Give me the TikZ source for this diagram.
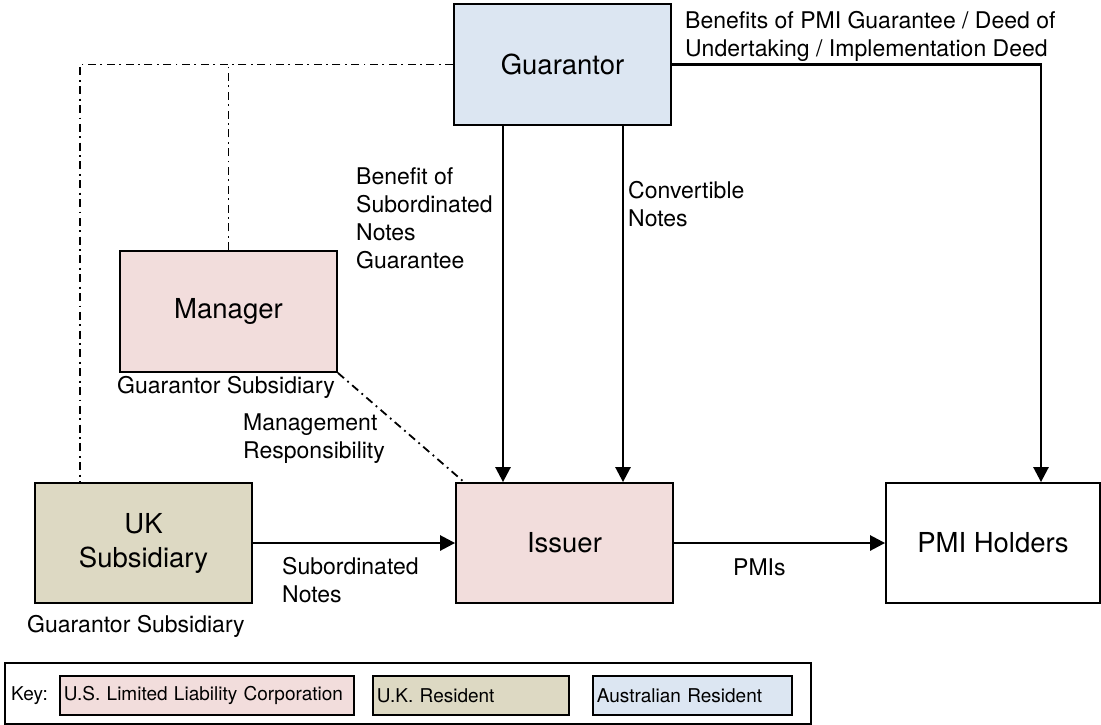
\documentclass[tikz,border=0pt]{standalone}
\usepackage{fontspec}
\setmainfont{TeX Gyre Heros}
\usetikzlibrary{arrows.meta}

\definecolor{usllc}{RGB}{242,221,220}
\definecolor{ukres}{RGB}{221,217,195}
\definecolor{aures}{RGB}{220,230,242}

\begin{document}
\begin{tikzpicture}[x=1pt, y=-1pt,
  entity/.style={draw, line width=1.8pt, minimum width=217pt, minimum height=120pt,
    align=center, font=\fontsize{27.5}{34}\selectfont},
  lbl/.style={anchor=north west, inner sep=0pt, align=left,
    font=\fontsize{23}{28}\selectfont},
  keybox/.style={draw, line width=1.8pt, anchor=north west, minimum height=39pt,
    inner xsep=4pt, align=left, font=\fontsize{19}{22}\selectfont},
  flow/.style={line width=2.6pt, -{Triangle[length=15pt,width=15pt]}},
  dashdot/.style={line width=1.8pt, dash pattern=on 8pt off 4.5pt on 1.8pt off 4.5pt}]

\useasboundingbox (0,0) rectangle (1101,724);

%% boxes
\node[entity, fill=aures, minimum height=121pt] (guarantor) at (562.5,64.5) {Guarantor};
\node[entity, fill=usllc, minimum height=121pt] (manager) at (228.5,311.5) {Manager};
\node[entity, fill=ukres] (uksub) at (143.5,543) {UK\\Subsidiary};
\node[entity, fill=usllc] (issuer) at (564.5,543) {Issuer};
\node[entity, minimum width=214pt] (holders) at (993,543) {PMI Holders};

%% helper points
\coordinate (lnA) at (503,0);
\coordinate (lnB) at (623,0);
\coordinate (bend) at (1041,0);
\coordinate (corner) at (80,0);

%% flows
\draw[flow] (guarantor.south -| lnA) -- (issuer.north -| lnA);
\draw[flow] (guarantor.south -| lnB) -- (issuer.north -| lnB);
\draw[flow] (guarantor.east) -| (holders.north -| bend);
\draw[flow] (uksub.east) -- (issuer.west);
\draw[flow] (issuer.east) -- (holders.west);

%% ownership
\draw[dashdot] (guarantor.west) -| (uksub.north -| corner);
\draw[dashdot] (manager.north) -- (manager.north |- guarantor.west);
\draw[dashdot] (manager.south east) -- ([xshift=9pt]issuer.north west);

%% labels
\node[lbl] (lbenefits) at (685,11) {Benefits of PMI Guarantee / Deed of\\Undertaking / Implementation Deed};
\node[lbl] (lsubguar) at (356,167) {Benefit of\\Subordinated\\Notes\\Guarantee};
\node[lbl] (lconv) at (628,181) {Convertible\\Notes};
\node[lbl, anchor=north] (lmansub) at (226,376) {Guarantor Subsidiary};
\node[lbl] (lmanage) at (243,414) {Management\\Responsibility};
\node[lbl] (lsubnotes) at (282,557) {Subordinated\\Notes};
\node[lbl] (lpmis) at (733,559) {PMIs};
\node[lbl] (luksub) at (27,615) {Guarantor Subsidiary};

%% key
\node[draw, line width=1.8pt, anchor=north west, minimum width=806pt, minimum height=61pt] (keyframe) at (4,662) {};
\node[anchor=base west, inner sep=0pt, font=\fontsize{19}{22}\selectfont] (keytxt) at (11,700) {Key:};
\node[keybox, fill=usllc, text width=286pt] (keyus) at (59,675) {U.S. Limited Liability Corporation};
\node[keybox, fill=ukres, text width=188pt] (keyuk) at (372,675) {U.K. Resident};
\node[keybox, fill=aures, text width=191pt] (keyau) at (592,675) {Australian Resident};

\end{tikzpicture}
\end{document}
